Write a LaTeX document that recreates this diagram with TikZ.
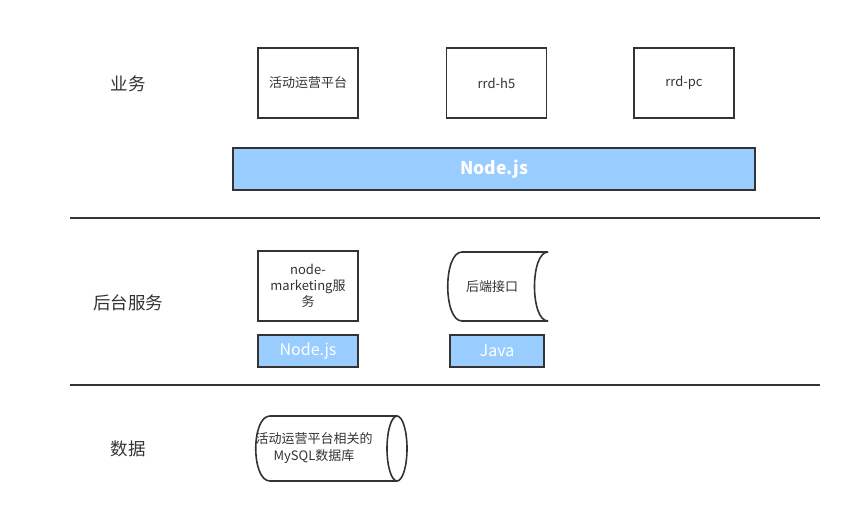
\documentclass[tikz,border=0pt]{standalone}
\usepackage{fontspec}
\setmainfont{Noto Sans CJK SC}
\usepackage{xcolor}
\usepackage{tikz}
\usetikzlibrary{positioning, calc}
\definecolor{darktext}{RGB}{51, 51, 51}
\definecolor{nodeblue}{RGB}{153, 204, 255}

\begin{document}
\begin{tikzpicture}[
    x=1pt, y=-1pt,
    box/.style={rectangle, draw=darktext, line width=1.6pt, minimum width=100pt,
                minimum height=70pt, align=center, text=darktext,
                font=\fontsize{13}{16}\selectfont},
    bar/.style={rectangle, draw=darktext, fill=nodeblue, line width=1.6pt,
                minimum height=32pt, text=white, font=\fontsize{16}{18}\selectfont},
    layer/.style={text=darktext, font=\fontsize{17.5}{20}\selectfont},
    sep/.style={line width=1.4pt, darktext},
    drum/.style={draw=darktext, line width=1.6pt}
]
\useasboundingbox (0,0) rectangle (853,512);

% Business layer
\node[layer] (biz) at (128,84) {业务};
\node[box] (act) at (308,83) {活动运营平台};
\node[box] (h5) at (496.5,83) {rrd-h5};
\node[box] (pc) at (684,83) {rrd-pc};
\node[bar, minimum width=522pt, minimum height=42pt,
      font=\fontsize{17.5}{20}\selectfont\bfseries] (nodejs) at (494,169) {Node.js};

% Separator 1
\coordinate (sepA) at (70,218);
\coordinate (sepB) at (820,218);
\draw[sep] (sepA) -- (sepB);

% Service layer
\node[layer] (svc) at (128,303) {后台服务};
\node[box] (mkt) at (308,286) {node-\\marketing服\\务};
\node[bar, minimum width=100pt] (mktjs) at (308,351) {Node.js};

\node[text=darktext, font=\fontsize{13}{16}\selectfont] (api) at (492,287) {后端接口};
\draw[drum] (548,252) -- (462,252) .. controls (443,252) and (443,321) .. (462,321) -- (548,321);
\draw[drum] (548,252) .. controls (530,252) and (530,321) .. (548,321);
\node[bar, minimum width=94pt] (java) at (497,351) {Java};

% Separator 2
\coordinate (sepC) at (70,385);
\coordinate (sepD) at (820,385);
\draw[sep] (sepC) -- (sepD);

% Data layer
\node[layer] (data) at (128,449) {数据};
\draw[drum] (397,416) -- (270,416) .. controls (251,416) and (251,481) .. (270,481) -- (397,481);
\draw[drum] (397,448.5) ellipse [x radius=10pt, y radius=32.5pt];
\node[align=center, text=darktext, font=\fontsize{13}{17}\selectfont] (db) at (314,448) {活动运营平台相关的\\MySQL数据库};

\end{tikzpicture}
\end{document}
